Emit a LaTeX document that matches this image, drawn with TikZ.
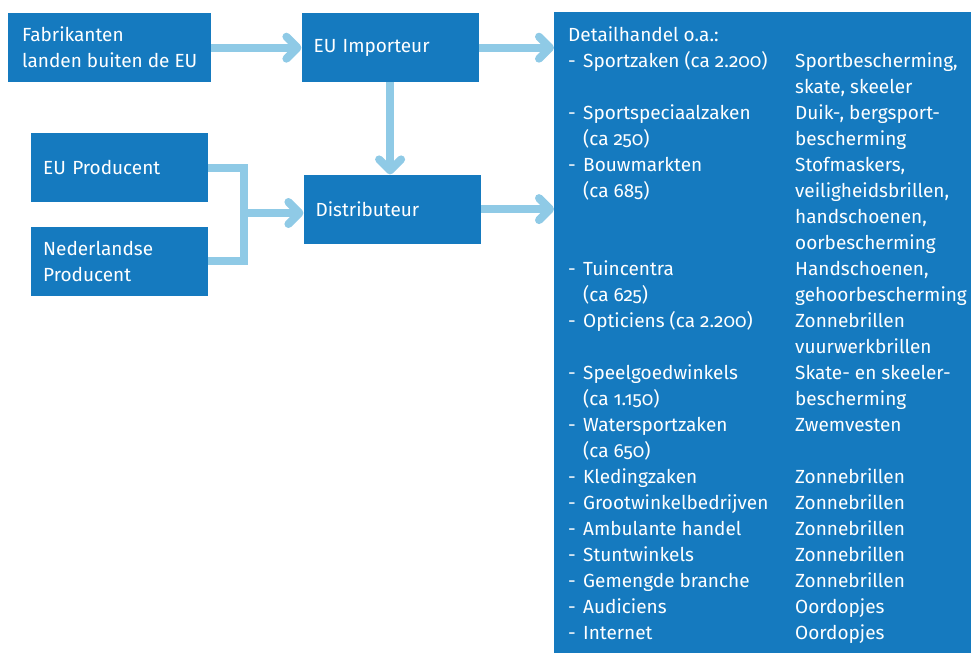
\documentclass[tikz,border=0pt]{standalone}
\usepackage{fontspec}
\setmainfont{Fira Sans}[Numbers=OldStyle]
\usetikzlibrary{positioning,arrows.meta}
\definecolor{boxblue}{RGB}{21,122,191}
\definecolor{arrowblue}{RGB}{143,202,230}

\begin{document}
\begin{tikzpicture}[x=1pt, y=-1pt, node distance=90pt, font=\fontsize{19}{26}\selectfont,
    main/.style = {fill=boxblue, text=white, minimum height=69pt, inner xsep=12pt, inner ysep=0pt, align=left, text width=153pt},
    flow/.style = {draw=arrowblue, line width=8pt, -{Straight Barb[length=11pt, width=22pt, line cap=round, line join=round]}}]
    \useasboundingbox (0,0) rectangle (971,653);
    \node[main, anchor=north west, text width=, minimum width=203pt] (fab) at (8,13) {Fabrikanten\\landen buiten de EU};
    \node[main] (imp) [right=90pt of fab] {EU Importeur};
    \node[main] (distr) [below=92pt of imp.south west, anchor=north west, xshift=2pt] {Distributeur};
    \node[main, anchor=north west] (prod) at (31,133) {EU Producent};
    \node[main] (ned) [below=24pt of prod] {Nederlandse\\Producent};
    \node[fill=boxblue, anchor=north west, minimum width=417pt, minimum height=641pt, inner sep=0pt] (detail) at (554,12) {};
    \node[text=white, inner sep=0pt, below right=11pt and 14pt of detail.north west] (list) {%
      \begin{tabular}{@{}p{15pt}@{}p{212pt}@{}l@{}}
        \multicolumn{3}{@{}l@{}}{Detailhandel o.a.:}\\
        - & Sportzaken (ca 2.200) & Sportbescherming,\\
          & & skate, skeeler\\
        - & Sportspeciaalzaken & Duik-, bergsport-\\
          & (ca 250) & bescherming\\
        - & Bouwmarkten & Stofmaskers,\\
          & (ca 685) & veiligheidsbrillen,\\
          & & handschoenen,\\
          & & oorbescherming\\
        - & Tuincentra & Handschoenen,\\
          & (ca 625) & gehoorbescherming\\
        - & Opticiens (ca 2.200) & Zonnebrillen\\
          & & vuurwerkbrillen\\
        - & Speelgoedwinkels & Skate- en skeeler-\\
          & (ca 1.150) & bescherming\\
        - & Watersportzaken & Zwemvesten\\
          & (ca 650) & \\
        - & Kledingzaken & Zonnebrillen\\
        - & Grootwinkelbedrijven & Zonnebrillen\\
        - & Ambulante handel & Zonnebrillen\\
        - & Stuntwinkels & Zonnebrillen\\
        - & Gemengde branche & Zonnebrillen\\
        - & Audiciens & Oordopjes\\
        - & Internet & Oordopjes
      \end{tabular}};
    \coordinate (join) at (244,213);
    \draw[flow] (fab) -- (imp);
    \draw[flow] (imp.east) -- (imp.east -| detail.west);
    \draw[flow] (imp.south) -- (imp.south |- distr.north);
    \draw[flow] (distr.east) -- (distr.east -| detail.west);
    \draw[draw=arrowblue, line width=8pt] (prod.east) -| (join);
    \draw[draw=arrowblue, line width=8pt] (ned.east) -| (join);
    \draw[flow] (join) -- (join -| distr.west);
\end{tikzpicture}
\end{document}
